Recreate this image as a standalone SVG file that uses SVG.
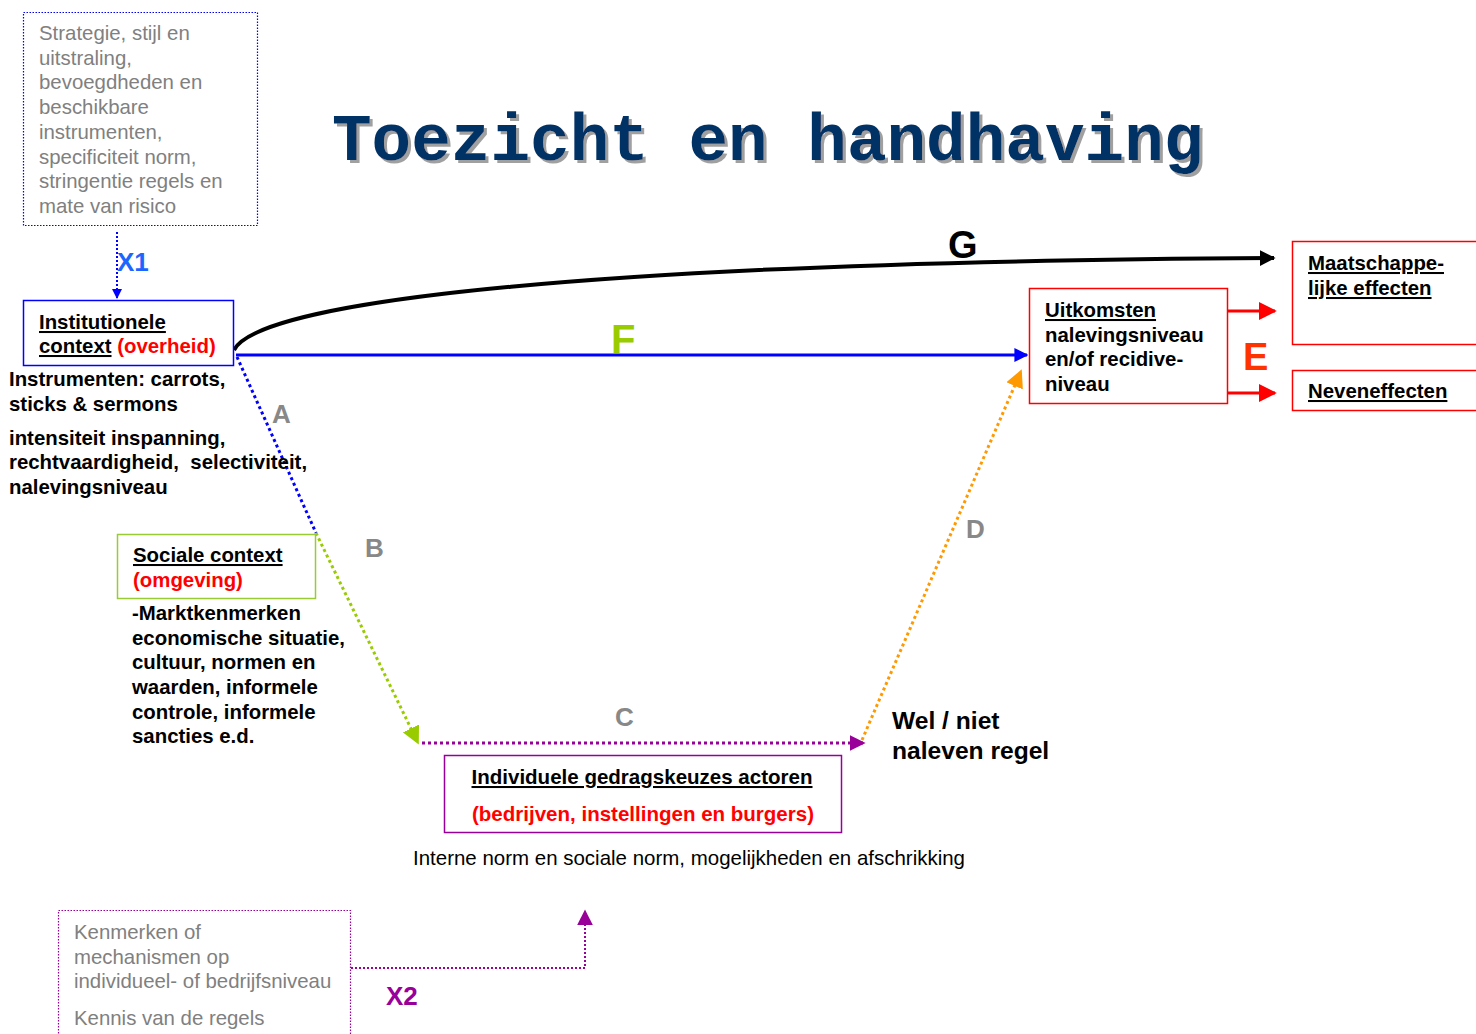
<svg xmlns="http://www.w3.org/2000/svg" width="1476" height="1034" viewBox="0 0 1476 1034">
<style>
.t{font-family:"Liberation Sans",Arial,sans-serif;font-size:20.4px}
.b{font-weight:bold}
.g{fill:#808080}
.k{fill:#000}
.r{fill:#ff0000}
.u{text-decoration:underline}
.lab{font-family:"Liberation Sans",Arial,sans-serif;font-weight:bold}
</style>
<defs>
<filter id="shadow" x="-5%" y="-20%" width="110%" height="140%"><feDropShadow dx="3" dy="3" stdDeviation="0.6" flood-color="#a0a0a0" flood-opacity="1"/></filter>
<marker id="mBlue" viewBox="0 0 10 10" refX="9" refY="5" markerWidth="10" markerHeight="10" markerUnits="userSpaceOnUse" orient="auto"><path d="M0,0L10,5L0,10z" fill="#0000ff"/></marker>
<marker id="mBlack" viewBox="0 0 10 10" refX="9" refY="5" markerWidth="16" markerHeight="16" markerUnits="userSpaceOnUse" orient="auto"><path d="M0,0L10,5L0,10z" fill="#000"/></marker>
<marker id="mBlueF" viewBox="0 0 10 10" refX="9" refY="5" markerWidth="14" markerHeight="14" markerUnits="userSpaceOnUse" orient="auto"><path d="M0,0L10,5L0,10z" fill="#0000ff"/></marker>
<marker id="mRed" viewBox="0 0 10 10" refX="9" refY="5" markerWidth="18" markerHeight="18" markerUnits="userSpaceOnUse" orient="auto"><path d="M0,0L10,5L0,10z" fill="#ff0000"/></marker>
<marker id="mGreen" viewBox="0 0 10 10" refX="9" refY="5" markerWidth="18" markerHeight="18" markerUnits="userSpaceOnUse" orient="auto"><path d="M0,0L10,5L0,10z" fill="#99cc00"/></marker>
<marker id="mPurple" viewBox="0 0 10 10" refX="9" refY="5" markerWidth="16" markerHeight="16" markerUnits="userSpaceOnUse" orient="auto"><path d="M0,0L10,5L0,10z" fill="#990099"/></marker>
<marker id="mOrange" viewBox="0 0 10 10" refX="9" refY="5" markerWidth="18" markerHeight="18" markerUnits="userSpaceOnUse" orient="auto"><path d="M0,0L10,5L0,10z" fill="#ff9900"/></marker>
</defs>
<rect width="1476" height="1034" fill="#fff"/>

<g id="title" font-family="'Liberation Mono','Courier New',monospace" font-weight="bold" font-size="66">
<text x="332" y="160" fill="#003366" filter="url(#shadow)">Toezicht en handhaving</text>
</g>

<g id="connectors" fill="none">
<path d="M117,232 V298" stroke="#0000ff" stroke-width="2" stroke-dasharray="2,2" marker-end="url(#mBlue)"/>
<path d="M234,350 C260,300 600,262 1274,258" stroke="#000" stroke-width="4" marker-end="url(#mBlack)"/>
<path d="M236,355 H1027" stroke="#0000ff" stroke-width="3" marker-end="url(#mBlueF)"/>
<path d="M1228,311 H1275" stroke="#ff0000" stroke-width="3" marker-end="url(#mRed)"/>
<path d="M1228,393 H1275" stroke="#ff0000" stroke-width="3" marker-end="url(#mRed)"/>
<path d="M237,357 L316,533" stroke="#0000ff" stroke-width="3" stroke-dasharray="3,3"/>
<path d="M316,533 L418,743" stroke="#99cc00" stroke-width="3" stroke-dasharray="3,3" marker-end="url(#mGreen)"/>
<path d="M422,743 H864" stroke="#990099" stroke-width="3" stroke-dasharray="3,3" marker-end="url(#mPurple)"/>
<path d="M862,740 L1021,371" stroke="#ff9900" stroke-width="3" stroke-dasharray="3,3" marker-end="url(#mOrange)"/>
<path d="M351,968 H585 V911" stroke="#990099" stroke-width="2" stroke-dasharray="2,2" marker-end="url(#mPurple)"/>
</g>

<g id="labels" class="lab">
<text x="117" y="271" font-size="26" fill="#1a66ff">X1</text>
<text x="948" y="258" font-size="38" fill="#000">G</text>
<text x="611" y="353" font-size="40" fill="#99cc00">F</text>
<text x="1243" y="370" font-size="38" fill="#ff3300">E</text>
<text x="272" y="423" font-size="26" fill="#888">A</text>
<text x="365" y="557" font-size="26" fill="#888">B</text>
<text x="615" y="726" font-size="26" fill="#888">C</text>
<text x="966" y="538" font-size="26" fill="#888">D</text>
<text x="386" y="1005" font-size="26" fill="#990099">X2</text>
</g>

<g id="strategie">
<rect x="23.5" y="12.5" width="234" height="213" fill="none" stroke="#0000ff" stroke-width="1.2" stroke-dasharray="1.5,1.5"/>
<text class="t g"><tspan x="39" y="40">Strategie, stijl en</tspan><tspan x="39" y="65">uitstraling,</tspan><tspan x="39" y="89">bevoegdheden en</tspan><tspan x="39" y="114">beschikbare</tspan><tspan x="39" y="139">instrumenten,</tspan><tspan x="39" y="164">specificiteit norm,</tspan><tspan x="39" y="188">stringentie regels en</tspan><tspan x="39" y="213">mate van risico</tspan></text>
</g>

<g id="institutionele">
<rect x="23.5" y="300.5" width="210" height="65" fill="#fff" stroke="#0000ff" stroke-width="1.5"/>
<text class="t b k" x="39" y="329"><tspan class="u">Institutionele</tspan></text>
<text class="t b" x="39" y="353"><tspan class="u k">context</tspan><tspan class="r"> (overheid)</tspan></text>
<text class="t b k"><tspan x="9" y="386">Instrumenten: carrots,</tspan><tspan x="9" y="411">sticks &amp; sermons</tspan><tspan x="9" y="445">intensiteit inspanning,</tspan><tspan x="9" y="469">rechtvaardigheid,&#160; selectiviteit,</tspan><tspan x="9" y="494">nalevingsniveau</tspan></text>
</g>

<g id="sociale">
<rect x="117.5" y="534.5" width="198" height="64" fill="#fff" stroke="#99cc33" stroke-width="1.5"/>
<text class="t b k u" x="133" y="562">Sociale context</text>
<text class="t b r" x="133" y="587">(omgeving)</text>
<text class="t b k"><tspan x="132" y="620">-Marktkenmerken</tspan><tspan x="132" y="645">economische situatie,</tspan><tspan x="132" y="669">cultuur, normen en</tspan><tspan x="132" y="694">waarden, informele</tspan><tspan x="132" y="719">controle, informele</tspan><tspan x="132" y="743">sancties e.d.</tspan></text>
</g>

<g id="individuele">
<rect x="444.5" y="755.5" width="397" height="77" fill="#fff" stroke="#990099" stroke-width="1.5"/>
<text class="t b k u" x="642" y="784" text-anchor="middle" textLength="341" lengthAdjust="spacingAndGlyphs">Individuele gedragskeuzes actoren</text>
<text class="t b r" x="643" y="821" text-anchor="middle" textLength="342" lengthAdjust="spacingAndGlyphs">(bedrijven, instellingen en burgers)</text>
<text class="t k" x="413" y="865" textLength="552" lengthAdjust="spacingAndGlyphs">Interne norm en sociale norm, mogelijkheden en afschrikking</text>
</g>

<g id="naleven">
<text class="t b k" style="font-size:24.6px"><tspan x="892" y="729">Wel / niet</tspan><tspan x="892" y="759">naleven regel</tspan></text>
</g>

<g id="uitkomsten">
<rect x="1029.5" y="288.5" width="198" height="115" fill="#fff" stroke="#ff0000" stroke-width="1.5"/>
<text class="t b k"><tspan x="1045" y="317" class="u">Uitkomsten</tspan><tspan x="1045" y="342">nalevingsniveau</tspan><tspan x="1045" y="366">en/of recidive-</tspan><tspan x="1045" y="391">niveau</tspan></text>
</g>

<g id="maatschappelijk">
<rect x="1292.5" y="241.5" width="200" height="103" fill="#fff" stroke="#ff0000" stroke-width="1.5"/>
<text class="t b k u"><tspan x="1308" y="270">Maatschappe-</tspan><tspan x="1308" y="295">lijke effecten</tspan></text>
</g>

<g id="neveneffecten">
<rect x="1292.5" y="370.5" width="200" height="40" fill="#fff" stroke="#ff0000" stroke-width="1.5"/>
<text class="t b k u" x="1308" y="398">Neveneffecten</text>
</g>

<g id="kenmerken">
<rect x="58.5" y="910.5" width="292" height="140" fill="none" stroke="#990099" stroke-width="1.2" stroke-dasharray="1.5,1.5"/>
<text class="t g"><tspan x="74" y="939">Kenmerken of</tspan><tspan x="74" y="964">mechanismen op</tspan><tspan x="74" y="988">individueel- of bedrijfsniveau</tspan><tspan x="74" y="1025">Kennis van de regels</tspan></text>
</g>
</svg>
